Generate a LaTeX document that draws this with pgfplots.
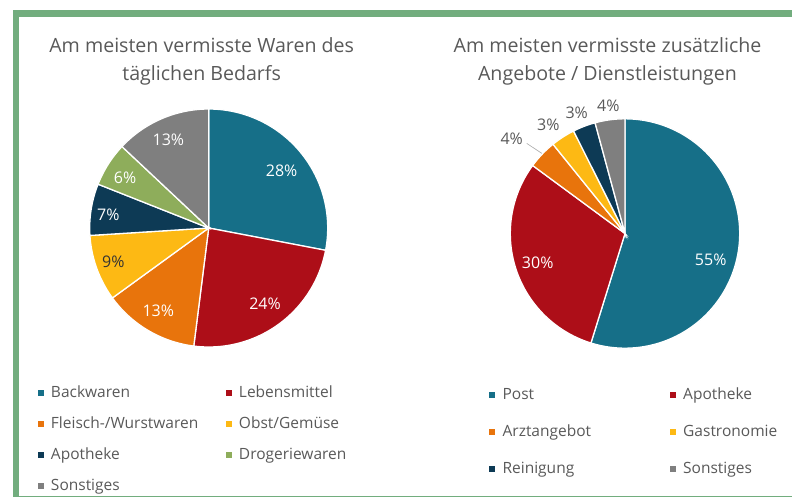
\documentclass[border=0pt]{standalone}
\usepackage{pgfplots}
\pgfplotsset{compat=1.18}
\usepackage{fontspec}
\setmainfont{Open Sans}
\definecolor{cTeal}{HTML}{166F88}
\definecolor{cRed}{HTML}{AD0E18}
\definecolor{cOrange}{HTML}{E8740C}
\definecolor{cYellow}{HTML}{FDB914}
\definecolor{cNavy}{HTML}{0D3A55}
\definecolor{cGreen}{HTML}{8EAD5B}
\definecolor{cGray}{HTML}{7F7F7F}
\definecolor{frame}{HTML}{72AD7E}
\definecolor{txt}{HTML}{595959}
\newcommand{\ttl}{\fontsize{19.6bp}{24bp}\selectfont}
\newcommand{\lbl}{\fontsize{16bp}{19bp}\selectfont}
% colour, cumulative start (%), value (%)
\newcommand{\pieslice}[3]{%
  \addplot[fill=#1, draw=white, line width=1.3bp,
    domain=90-3.6*(#2+#3):90-3.6*#2, samples=90, variable=\t]
    ({cos(\t)},{sin(\t)}) -- (axis cs:0,0) -- cycle;
}
\pgfplotsset{
  piestyle/.style={
    scale only axis, xmin=-1, xmax=1, ymin=-1, ymax=1,
    hide axis, clip=false, anchor=origin,
    legend columns=2, legend cell align=left,
    legend image code/.code={\fill[##1, draw=none] (0bp,-3bp) rectangle (6bp,3bp);},
  },
}
\begin{document}
\begin{tikzpicture}
\path[use as bounding box] (0,0) rectangle (792bp,-497bp);
% frame
\fill[frame] (12.7bp,-10bp) rectangle (19.3bp,-497bp);
\fill[frame] (12.7bp,-10bp) rectangle (792bp,-17.3bp);
\fill[frame] (12.7bp,-495.5bp) rectangle (792bp,-497bp);
% titles
\node[anchor=base, font=\ttl, text=txt, inner sep=0pt] at (201.7bp,-52.3bp) {Am meisten vermisste Waren des};
\node[anchor=base, font=\ttl, text=txt, inner sep=0pt] at (201.7bp,-80bp) {täglichen Bedarfs};
\node[anchor=base, font=\ttl, text=txt, inner sep=0pt] at (607.5bp,-52.3bp) {Am meisten vermisste zusätzliche};
\node[anchor=base, font=\ttl, text=txt, inner sep=0pt] at (607.5bp,-80bp) {Angebote / Dienstleistungen};

% left pie
\begin{axis}[piestyle, at={(208.7bp,-228bp)}, width=238bp, height=238bp,
  legend style={at={(-0.2185,-0.1651)}, anchor=north west, draw=none, fill=none,
    inner sep=0pt, outer sep=0pt, row sep=17bp, column sep=7.3bp,
    font=\fontsize{15.5bp}{18bp}\selectfont, text=txt,
    nodes={inner sep=0pt, text height=11bp, text depth=3bp},
    /tikz/every even column/.append style={column sep=0bp}},
  legend entries={\makebox[174.7bp][l]{Backwaren}, Lebensmittel,
    \makebox[174.7bp][l]{Fleisch-/Wurstwaren}, Obst/Gemüse,
    \makebox[174.7bp][l]{Apotheke}, Drogeriewaren,
    \makebox[174.7bp][l]{Sonstiges}},
]
\pieslice{cTeal}{0}{28}
\pieslice{cRed}{28}{24}
\pieslice{cOrange}{52}{13}
\pieslice{cYellow}{65}{9}
\pieslice{cNavy}{74}{7}
\pieslice{cGreen}{81}{6}
\pieslice{cGray}{87}{13}
\node[font=\lbl, text=white] at (axis cs:0.613,0.479) {28\%};
\node[font=\lbl, text=white] at (axis cs:0.473,-0.639) {24\%};
\node[font=\lbl, text=white] at (axis cs:-0.424,-0.697) {13\%};
\node[font=\lbl, text=black!80] at (axis cs:-0.802,-0.283) {9\%};
\node[font=\lbl, text=white] at (axis cs:-0.844,0.109) {7\%};
\node[font=\lbl, text=white] at (axis cs:-0.703,0.418) {6\%};
\node[font=\lbl, text=white] at (axis cs:-0.339,0.739) {13\%};
\end{axis}

% right pie
\begin{axis}[piestyle, at={(625bp,-233.5bp)}, width=229.4bp, height=229.4bp,
  legend style={at={(-0.0915,-0.1748)}, anchor=north west, draw=none, fill=none,
    inner sep=0pt, outer sep=0pt, row sep=23bp, column sep=7.3bp,
    font=\fontsize{15.5bp}{18bp}\selectfont, text=txt,
    nodes={inner sep=0pt, text height=11bp, text depth=3bp},
    /tikz/every even column/.append style={column sep=0bp}},
  legend entries={\makebox[167.3bp][l]{Post}, Apotheke,
    \makebox[167.3bp][l]{Arztangebot}, Gastronomie,
    \makebox[167.3bp][l]{Reinigung}, Sonstiges},
]
\pieslice{cTeal}{0}{54.8}
\pieslice{cRed}{54.8}{30.3}
\pieslice{cOrange}{85.1}{4.1}
\pieslice{cYellow}{89.2}{3.4}
\pieslice{cNavy}{92.6}{3.2}
\pieslice{cGray}{95.8}{4.2}
\node[font=\lbl, text=white] at (axis cs:0.747,-0.231) {55\%};
\node[font=\lbl, text=white] at (axis cs:-0.761,-0.255) {30\%};
\draw[black!35, line width=0.6bp] (axis cs:-0.857,0.786) -- (axis cs:-0.726,0.699);
\node[font=\lbl, text=txt] at (axis cs:-0.988,0.830) {4\%};
\node[font=\lbl, text=txt] at (axis cs:-0.669,0.952) {3\%};
\node[font=\lbl, text=txt] at (axis cs:-0.421,1.053) {3\%};
\node[font=\lbl, text=txt] at (axis cs:-0.146,1.112) {4\%};
\end{axis}
\end{tikzpicture}
\end{document}
